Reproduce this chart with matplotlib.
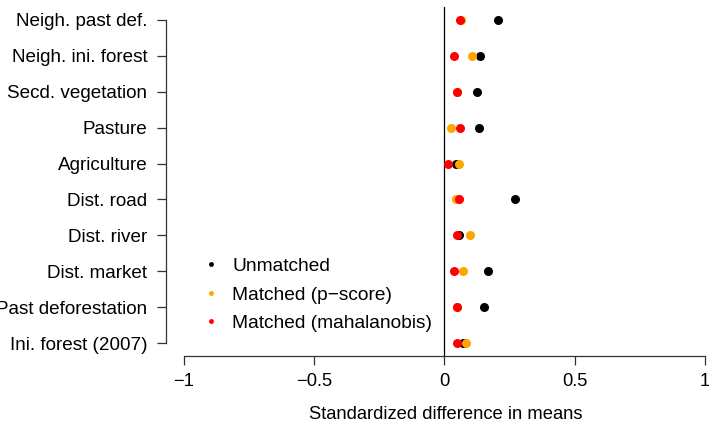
import matplotlib.pyplot as plt
from matplotlib.lines import Line2D

plt.rcParams['font.family'] = ['Liberation Sans', 'DejaVu Sans']

# covariates, top to bottom
labels = ["Neigh. past def.", "Neigh. ini. forest", "Secd. vegetation", "Pasture",
          "Agriculture", "Dist. road", "Dist. river", "Dist. market",
          "Past deforestation", "Ini. forest (2007)"]

# standardized difference in means
unmatched = [0.206, 0.136, 0.123, 0.133, 0.045, 0.272, 0.056, 0.168, 0.150, 0.073]
pscore = [0.065, 0.106, 0.049, 0.024, 0.056, 0.046, 0.099, 0.070, 0.047, 0.084]
mahal = [0.058, 0.036, 0.049, 0.058, 0.015, 0.055, 0.047, 0.038, 0.047, 0.047]

xticks = [-1, -0.5, 0, 0.5, 1]
xticklabels = ["\u22121", "\u22120.5", "0", "0.5", "1"]

W, H = 709, 423
fig = plt.figure(figsize=(W / 100, H / 100), dpi=100)

# plot region in pixels (left 166, top 7, bottom 356), x scale 260.5 px per unit
xmin, xmax = -1.069, 1.08
left, top, bottom = 166, 7, 356
width = (xmax - xmin) * 260.5
ax = fig.add_axes([left / W, (H - bottom) / H, width / W, (bottom - top) / H])

ypos = list(range(len(labels), 0, -1))

ax.axvline(0, color='black', lw=0.9, zorder=1)
ax.plot(unmatched, ypos, 'o', color='black', ms=6.5, mec='none', zorder=3)
ax.plot(pscore, ypos, 'o', color='orange', ms=6.5, mec='none', zorder=4)
ax.plot(mahal, ypos, 'o', color='red', ms=6.5, mec='none', zorder=5)

ax.set_xlim(xmin, xmax)
ax.set_ylim(0.64, 10.36)

for s in ['top', 'right']:
    ax.spines[s].set_visible(False)
ax.spines['left'].set_bounds(1, 10)
ax.spines['bottom'].set_bounds(-1, 1)
for s in ['left', 'bottom']:
    ax.spines[s].set_linewidth(0.9)
    ax.spines[s].set_color('#333333')

ax.set_yticks(ypos)
ax.set_yticklabels(labels, fontsize=13.6)
ax.set_xticks(xticks)
ax.set_xticklabels(xticklabels, fontsize=13.2)
ax.tick_params(axis='y', length=6.5, width=0.9, pad=7, color='#333333')
ax.tick_params(axis='x', length=6.5, width=0.9, pad=6, color='#333333')
ax.set_xlabel("Standardized difference in means", fontsize=13.2, labelpad=11)

handles = [Line2D([], [], ls='none', marker='o', color=c, ms=3.5, mec='none')
           for c in ['black', 'orange', 'red']]
fig.legend(handles, ["Unmatched", "Matched (p\u2212score)", "Matched (mahalanobis)"],
           loc='center left', bbox_to_anchor=(201.1 / W, (H - 294.8) / H),
           frameon=False, fontsize=13.8, handlelength=1.0, handletextpad=0.63,
           labelspacing=0.57, borderpad=0, borderaxespad=0)

fig.savefig('out.png', dpi=100)
